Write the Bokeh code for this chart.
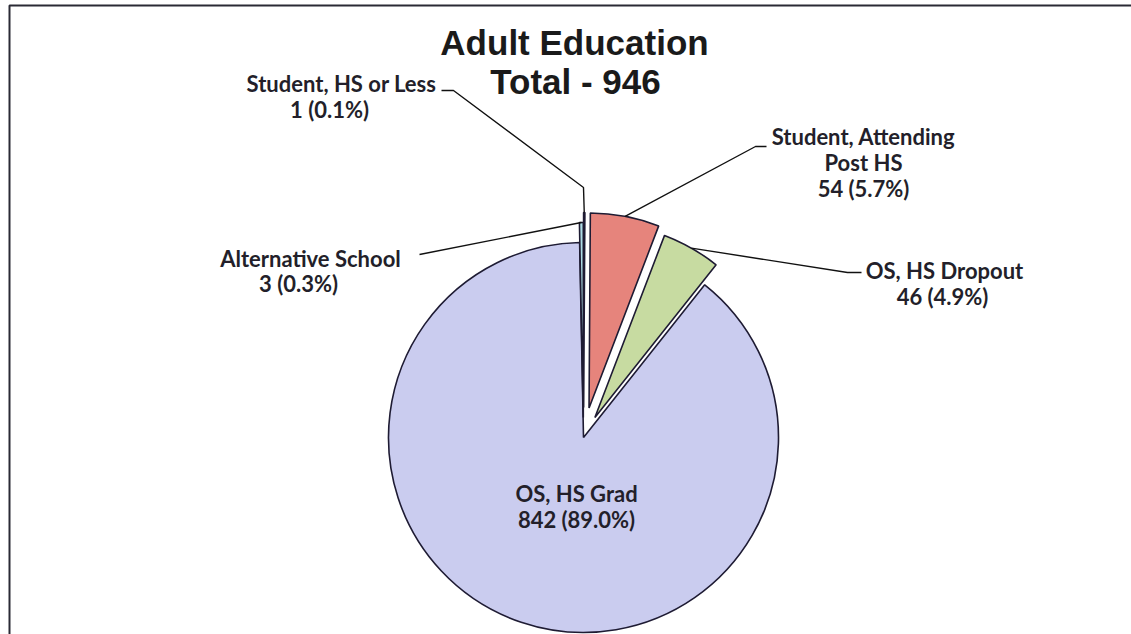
import math
from bokeh.plotting import figure
from bokeh.models import Range1d
from bokeh.core.properties import value
from bokeh.embed import file_html
from bokeh.resources import INLINE

# ---- data ----
title_lines = ["Adult Education", "Total - 946"]
categories = ["Student, HS or Less", "Student, Attending Post HS", "OS, HS Dropout",
              "OS, HS Grad", "Alternative School"]
counts = [1, 54, 46, 842, 3]
label_lines = [["Student, HS or Less"], ["Student, Attending", "Post HS"], ["OS, HS Dropout"],
               ["OS, HS Grad"], ["Alternative School"]]
colors = ["#A3B6DE", "#E6847C", "#C7DBA1", "#CACCEF", "#AEDCE6"]

# ---- layout (image pixel coords, y down) ----
W, H = 1131, 634
CX, CY, R = 583, 437, 195
explode = [30, 30, 23, 0, 20]
label_pos = [
    [(341, 83), (329, 109)],
    [(863, 136), (863, 162), (863, 188)],
    [(944, 270), (942, 296)],
    [(576, 493), (576, 519)],
    [(310, 258), (298, 283)],
]
leader_tail = [
    [(583, 187), (453, 90), (441, 90)],
    [(755, 146), (766, 146)],
    [(847, 272), (861, 272)],
    [],
    [(419, 254)],
]

def fy(y):
    return H - y

p = figure(width=W, height=H, output_backend="svg", toolbar_location=None,
           x_range=Range1d(0, W), y_range=Range1d(0, H), min_border=0)
p.axis.visible = False
p.grid.visible = False
p.outline_line_color = None
p.background_fill_color = "white"
p.border_fill_color = "white"

total = sum(counts)
cum = 0.0
for i, c in enumerate(counts):
    a = cum / total * 360.0
    b = (cum + c) / total * 360.0
    cum += c
    m = math.radians((a + b) / 2)
    ox = CX + explode[i] * math.sin(m)
    oy = CY - explode[i] * math.cos(m)
    p.wedge(x=ox, y=fy(oy), radius=R,
            start_angle=math.radians(90 - a), end_angle=math.radians(90 - b),
            direction="clock", fill_color=colors[i], line_color="#1E1B33", line_width=1.6)
    # leader line from outer arc midpoint
    if leader_tail[i]:
        sx = ox + R * math.sin(m)
        sy = oy - R * math.cos(m)
        pts = [(sx, sy)] + leader_tail[i]
        p.line([q[0] for q in pts], [fy(q[1]) for q in pts], line_color="#111111", line_width=1.4)
    pct = c / total * 100
    lines = label_lines[i] + [f"{c} ({pct:.1f}%)"]
    for (lx, ly), t in zip(label_pos[i], lines):
        p.text(x=[lx], y=[fy(ly)], text=[t], text_align="center", text_baseline="middle",
               text_font=value("Lato"), text_font_style="bold", text_font_size="22px",
               text_color="#231F2A")

# title
p.text(x=[574, 575], y=[fy(42), fy(81)], text=title_lines, text_align="center",
       text_baseline="middle", text_font=value("Liberation Sans"), text_font_style="bold",
       text_font_size="35px", text_color="#1A1A1A")

# frame lines (top and left)
p.line([9, 9, W], [fy(H), fy(5), fy(5)], line_color="#2A2A35", line_width=2)

open("out.html", "w").write(file_html(p, INLINE))
